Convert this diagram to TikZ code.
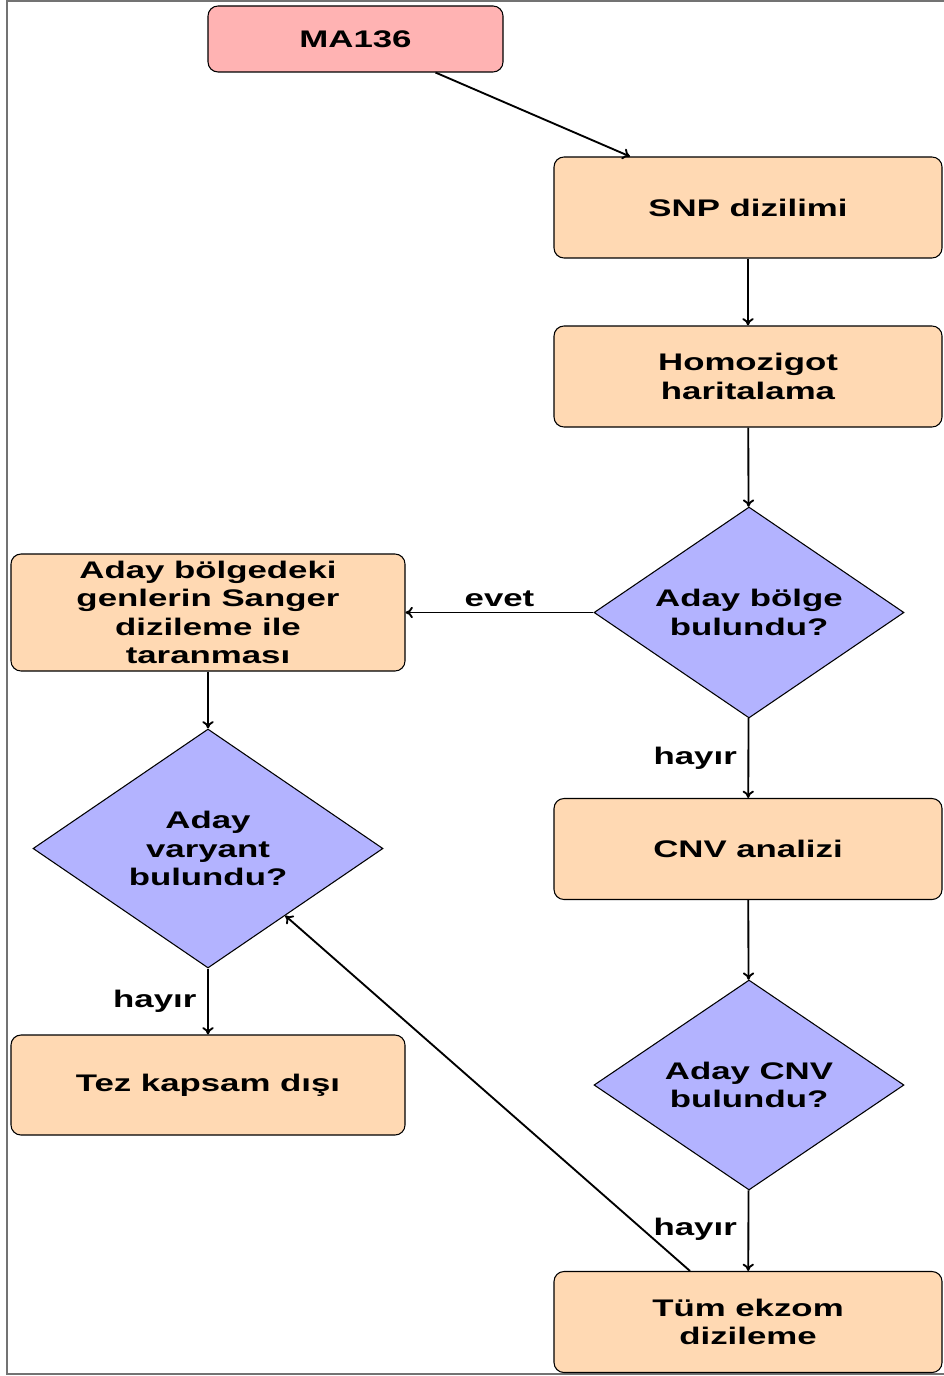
\documentclass[tikz,border=0pt]{standalone}
\usepackage{fontspec}
\setmainfont{Liberation Sans}[FakeStretch=1.45]
\usetikzlibrary{shapes.geometric,calc,arrows.meta}
\definecolor{peach}{RGB}{255,217,179}
\definecolor{lavender}{RGB}{179,179,255}
\definecolor{pinkish}{RGB}{255,179,179}
\begin{document}
\begin{tikzpicture}[x=0.75pt,y=-0.75pt,
  font=\bfseries\fontsize{18}{21.4}\selectfont,
  proc/.style={draw=black,line width=0.8pt,rounded corners=7.5pt,fill=peach,
    align=center,inner sep=0pt},
  startbox/.style={proc,fill=pinkish},
  decision/.style={draw=black,line width=0.8pt,shape=diamond,fill=lavender,
    align=center,inner sep=0pt,shape aspect=1.4},
  flow/.style={-{To[length=5.5pt,width=8.5pt]},line width=1.4pt},
  lbl/.style={inner sep=1pt}]
\useasboundingbox (0,0) rectangle (944,1376);
\clip (0,0) rectangle (944,1376);
% outer frame
\draw[line width=1.5pt,color=black!55] (7,1) rectangle (960,1374);

% process boxes
\node[startbox,minimum width=221.25pt,minimum height=49.5pt] (ma) at (355.5,39) {MA136};
\node[proc,minimum width=291pt,minimum height=75.75pt] (snp) at (748,207.5) {SNP dizilimi};
\node[proc,minimum width=291pt,minimum height=75.75pt] (homo) at (748,376.5) {Homozigot\\haritalama};
\node[decision,minimum width=232.5pt,minimum height=158.25pt] (d1) at (749,612.5) {Aday bölge\\bulundu?};
\node[proc,minimum width=295.5pt,minimum height=87.75pt] (sanger) at (208,612.5)
  {Aday bölgedeki\\genlerin Sanger\\dizileme ile\\taranması};
\node[decision,minimum width=262.5pt,minimum height=179.25pt] (d2) at (208,848.5)
  {Aday\\varyant\\bulundu?};
\node[proc,minimum width=295.5pt,minimum height=75pt] (tez) at (208,1085) {Tez kapsam dışı};
\node[proc,minimum width=291pt,minimum height=75.75pt] (cnv) at (748,849) {CNV analizi};
\node[decision,minimum width=232.5pt,minimum height=157.5pt] (d3) at (749,1085) {Aday CNV\\bulundu?};
\node[proc,minimum width=291pt,minimum height=75.75pt] (wes) at (748,1322) {Tüm ekzom\\dizileme};

% connectors
\draw[flow] ($(ma.south)+(80,0)$) -- ($(snp.north)+(-118,0)$);
\draw[flow] (snp) -- (homo);
\draw[flow] (homo) -- (d1);
\draw[flow] (d1) -- node[lbl,above=3pt] {evet} (sanger);
\draw[flow] (d1) -- node[lbl,left=7pt] {hayır} (cnv);
\draw[flow] (cnv) -- (d3);
\draw[flow] (d3) -- node[lbl,left=7pt,pos=0.48] {hayır} (wes);
\draw[flow] ($(wes.north)+(-58,0)$) -- (d2.-41);
\draw[flow] (sanger) -- (d2);
\draw[flow] (d2) -- node[lbl,left=7pt] {hayır} (tez);
\end{tikzpicture}
\end{document}
